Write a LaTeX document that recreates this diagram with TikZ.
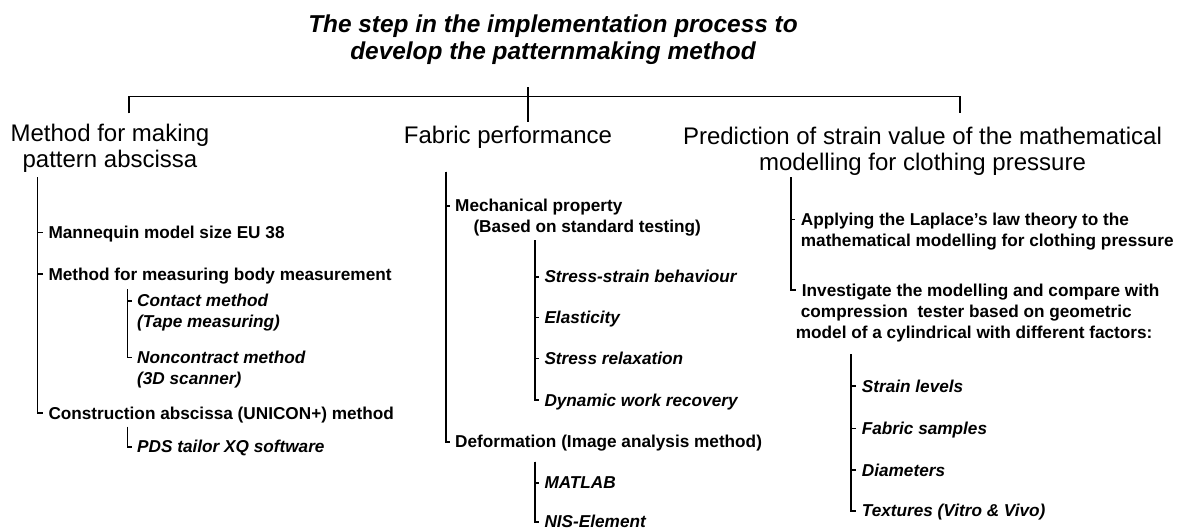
\documentclass[tikz,border=0pt]{standalone}
\usepackage{fontspec}
\setmainfont{Liberation Sans}
% stacked lines whose baseline is that of the first line
\newcommand\leftlines[1]{\begin{tabular}[t]{@{}l@{}}#1\end{tabular}}
\newcommand\centerlines[1]{\begin{tabular}[t]{@{}c@{}}#1\end{tabular}}
\begin{document}
\begin{tikzpicture}[x=1pt,y=-1pt,
  title/.style={font=\fontsize{24.4}{27}\selectfont\bfseries\itshape, inner sep=0pt, anchor=base},
  head/.style={font=\fontsize{24}{26}\selectfont, inner sep=0pt, anchor=base},
  item/.style={font=\fontsize{17.2}{21}\selectfont\bfseries, inner sep=0pt, anchor=base west},
  sub/.style={item, font=\fontsize{17.2}{21}\selectfont\bfseries\itshape},
  tree/.style={line width=1.6pt},
  tick/.style={shift={(-5.5pt,6pt)}}]
\useasboundingbox (0,0) rectangle (1181,530);

% title and column headings
\node[title] (tt) at (553,32) {\centerlines{The step in the implementation process to\\develop the patternmaking method}};
\node[head] (h1) at (110,141.7) {\centerlines{Method for making\\pattern abscissa}};
\node[head] (h2) at (508,143.3) {Fabric performance};
\node[head] (h3) at (922.5,144) {\centerlines{Prediction of strain value of the mathematical\\modelling for clothing pressure}};

% bracket joining the three columns
\coordinate (bl) at (129,113.3);
\coordinate (blt) at (129,96.5);
\coordinate (brt) at (960,96.5);
\coordinate (br) at (960,113.3);
\coordinate (bm1) at (528,87.3);
\coordinate (bm2) at (528,121.7);
\draw[tree] (bl) -- (blt) -- (brt) -- (br);
\draw[tree] (bm1) -- (bm2);

% left column
\node[item] (mq) at (48.3,238.3) {Mannequin model size EU 38};
\node[item] (mm) at (48.3,280) {Method for measuring body measurement};
\node[sub] (cm) at (137,306.7) {\leftlines{Contact method\\(Tape measuring)}};
\node[sub] (nm) at (137,363.3) {\leftlines{Noncontract method\\(3D scanner)}};
\node[item] (ca) at (48.3,419) {Construction abscissa (UNICON+) method};
\node[sub] (pds) at (137,452.7) {PDS tailor XQ software};
\coordinate (lt) at (37.3,177.3);
\coordinate (lt1) at (127.3,289.3);
\coordinate (lt2) at (127.3,426.7);
\foreach \n in {mq,mm,ca} \draw[tree] (lt) |- ([tick]\n.base west);
\foreach \n in {cm,nm} \draw[tree] (lt1) |- ([tick]\n.base west);
\draw[tree] (lt2) |- ([tick]pds.base west);

% middle column
\node[item] (mp) at (455,211.7) {\leftlines{Mechanical property\\\hspace*{18.3pt}(Based on standard testing)}};
\node[sub] (ss) at (544.3,282.7) {Stress-strain behaviour};
\node[sub] (el) at (544.3,323.3) {Elasticity};
\node[sub] (sr) at (544.3,364.3) {Stress relaxation};
\node[sub] (dw) at (544.3,406) {Dynamic work recovery};
\node[item] (de) at (455,447.7) {Deformation (Image analysis method)};
\node[sub] (ml) at (544.3,488.7) {MATLAB};
\node[sub] (ni) at (544.3,527.7) {NIS-Element};
\coordinate (mt) at (445.7,171.7);
\coordinate (mt1) at (535,240);
\coordinate (mt2) at (535,461.7);
\foreach \n in {mp,de} \draw[tree] (mt) |- ([tick]\n.base west);
\foreach \n in {ss,el,sr,dw} \draw[tree] (mt1) |- ([tick]\n.base west);
\foreach \n in {ml,ni} \draw[tree] (mt2) |- ([tick]\n.base west);

% right column
\node[item] (ap) at (800.7,225.3) {\leftlines{Applying the Laplace’s law theory to the\\mathematical modelling for clothing pressure}};
\node[item] (iv) at (801.7,296) {\leftlines{Investigate the modelling and compare with\\\hspace*{-1pt}compression~ tester based on geometric\\\hspace*{-6pt}model of a cylindrical with different factors:}};
\node[sub] (sl) at (861.7,392) {Strain levels};
\node[sub] (fs) at (861.7,434.3) {Fabric samples};
\node[sub] (di) at (861.7,476) {Diameters};
\node[sub] (tx) at (861.7,516.7) {Textures (Vitro \& Vivo)};
\coordinate (rt) at (791,177.3);
\coordinate (rt1) at (851,354);
\foreach \n in {ap,iv} \draw[tree] (rt) |- ([tick]\n.base west);
\foreach \n in {sl,fs,di,tx} \draw[tree] (rt1) |- ([tick]\n.base west);
\end{tikzpicture}
\end{document}
